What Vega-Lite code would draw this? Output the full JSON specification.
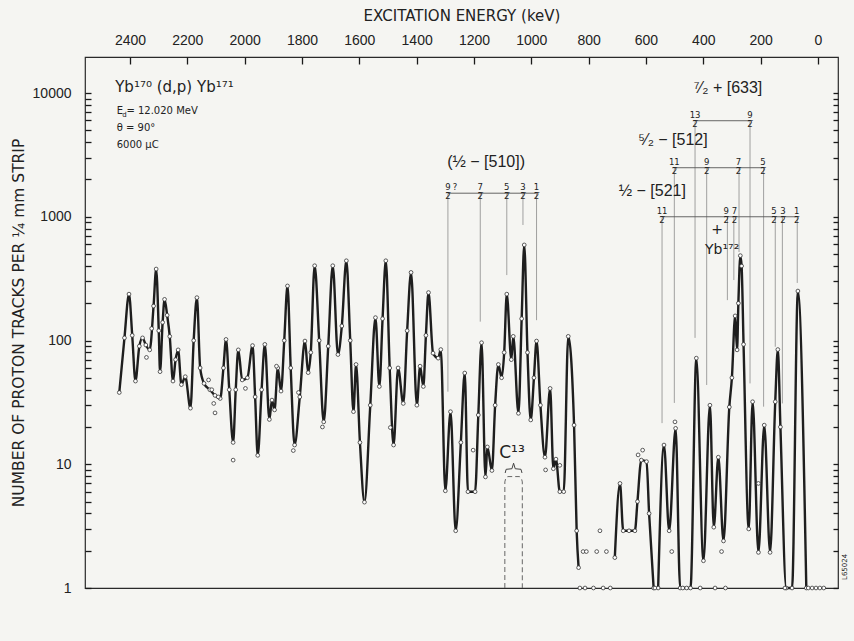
{
"$schema": "https://vega.github.io/schema/vega-lite/v6.json",
"width": 753,
"height": 531,
"autosize": {"type": "none"},
"padding": {"left": 85, "top": 57, "right": 16, "bottom": 53},
"background": "#f5f5f2",
"config": {
  "view": {"stroke": "#2a2a2a", "strokeWidth": 1.2},
  "font": "Liberation Sans",
  "axis": {"domain": false, "grid": false, "tickColor": "#1a1a1a", "tickWidth": 1.3, "labelColor": "#222", "labelFontSize": 14, "titleFontSize": 15, "titleFont": "DejaVu Sans", "titleFontWeight": "normal", "titleColor": "#222"},
  "text": {"color": "#222"}
},
"datasets": {
  "curve": [
    {"x":38.97,"y":38,"s":1},{"x":39.05,"y":105,"s":1},{"x":39.12,"y":237,"s":1},{"x":39.17,"y":110,"s":1},{"x":39.22,"y":47,"s":1},{"x":39.28,"y":90,"s":1},{"x":39.33,"y":105,"s":1},{"x":39.38,"y":92,"s":1},{"x":39.44,"y":84,"s":1},{"x":39.50,"y":190,"s":1},{"x":39.54,"y":378,"s":1},{"x":39.58,"y":120,"s":1},{"x":39.60,"y":56,"s":1},{"x":39.64,"y":140,"s":1},{"x":39.67,"y":215,"s":1},{"x":39.71,"y":160,"s":1},{"x":39.75,"y":108,"s":1},{"x":39.80,"y":47,"s":1},{"x":39.84,"y":70,"s":1},{"x":39.88,"y":84,"s":1},{"x":39.93,"y":44,"s":1},{"x":39.99,"y":51,"s":1},{"x":40.07,"y":28.4,"s":1},{"x":40.12,"y":100,"s":1},{"x":40.17,"y":222,"s":1},{"x":40.22,"y":60,"s":1},{"x":40.28,"y":45,"s":1},{"x":40.37,"y":40,"s":1},{"x":40.45,"y":36,"s":1},{"x":40.53,"y":34,"s":1},{"x":40.58,"y":60,"s":1},{"x":40.62,"y":102,"s":1},{"x":40.67,"y":40,"s":1},{"x":40.73,"y":15,"s":1},{"x":40.77,"y":40,"s":1},{"x":40.81,"y":84,"s":1},{"x":40.87,"y":48,"s":1},{"x":40.95,"y":50,"s":1},{"x":41.03,"y":91,"s":1},{"x":41.07,"y":35,"s":1},{"x":41.11,"y":11.8,"s":1},{"x":41.17,"y":40,"s":1},{"x":41.22,"y":93,"s":1},{"x":41.29,"y":23,"s":1},{"x":41.33,"y":33,"s":1},{"x":41.37,"y":27.5,"s":1},{"x":41.42,"y":60,"s":1},{"x":41.47,"y":39,"s":1},{"x":41.52,"y":100,"s":1},{"x":41.57,"y":276,"s":1},{"x":41.62,"y":60,"s":1},{"x":41.68,"y":14.3,"s":1},{"x":41.76,"y":35,"s":1},{"x":41.84,"y":99,"s":1},{"x":41.89,"y":55,"s":1},{"x":41.93,"y":80,"s":1},{"x":41.99,"y":402,"s":1},{"x":42.06,"y":100,"s":1},{"x":42.13,"y":22,"s":1},{"x":42.20,"y":90,"s":1},{"x":42.27,"y":402,"s":1},{"x":42.35,"y":77,"s":1},{"x":42.41,"y":131,"s":1},{"x":42.48,"y":441,"s":1},{"x":42.54,"y":100,"s":1},{"x":42.59,"y":26.6,"s":1},{"x":42.63,"y":64,"s":1},{"x":42.69,"y":15,"s":1},{"x":42.76,"y":4.94,"s":1},{"x":42.85,"y":30,"s":1},{"x":42.93,"y":153,"s":1},{"x":42.99,"y":42.5,"s":1},{"x":43.04,"y":150,"s":1},{"x":43.09,"y":441,"s":1},{"x":43.15,"y":60,"s":1},{"x":43.21,"y":14.3,"s":1},{"x":43.28,"y":60,"s":1},{"x":43.36,"y":31,"s":1},{"x":43.42,"y":120,"s":1},{"x":43.48,"y":355,"s":1},{"x":43.57,"y":30,"s":1},{"x":43.62,"y":62,"s":1},{"x":43.67,"y":42.5,"s":1},{"x":43.71,"y":110,"s":1},{"x":43.75,"y":244,"s":1},{"x":43.82,"y":79,"s":1},{"x":43.90,"y":72,"s":1},{"x":43.94,"y":84.5,"s":1},{"x":44.01,"y":6.1,"s":1},{"x":44.09,"y":26.6,"s":1},{"x":44.17,"y":2.9,"s":1},{"x":44.25,"y":15,"s":1},{"x":44.31,"y":54.6,"s":1},{"x":44.36,"y":6,"s":1},{"x":44.47,"y":6,"s":1},{"x":44.52,"y":25,"s":1},{"x":44.57,"y":96,"s":1},{"x":44.63,"y":7.9,"s":1},{"x":44.66,"y":13.8,"s":1},{"x":44.73,"y":8.9,"s":1},{"x":44.78,"y":30,"s":1},{"x":44.83,"y":64,"s":1},{"x":44.88,"y":50,"s":1},{"x":44.92,"y":80,"s":1},{"x":44.96,"y":237,"s":1},{"x":45.03,"y":70,"s":1},{"x":45.06,"y":108,"s":1},{"x":45.14,"y":25.8,"s":1},{"x":45.19,"y":150,"s":1},{"x":45.23,"y":592,"s":1},{"x":45.28,"y":80,"s":1},{"x":45.33,"y":22.8,"s":1},{"x":45.38,"y":50,"s":1},{"x":45.42,"y":99,"s":1},{"x":45.48,"y":30,"s":1},{"x":45.55,"y":11.4,"s":1},{"x":45.63,"y":41,"s":1},{"x":45.68,"y":9.2,"s":1},{"x":45.72,"y":11,"s":1},{"x":45.78,"y":6,"s":1},{"x":45.84,"y":6,"s":1},{"x":45.91,"y":108,"s":1},{"x":46.00,"y":20.7,"s":1},{"x":46.04,"y":2.9,"s":1},{"x":46.07,"y":1.46,"s":1},
    {"x":46.63,"y":1.76,"s":2},{"x":46.71,"y":7,"s":2},{"x":46.76,"y":2.9,"s":2},{"x":46.85,"y":2.9,"s":2},{"x":46.94,"y":2.9,"s":2},{"x":46.98,"y":5,"s":2},{"x":47.04,"y":10.8,"s":2},{"x":47.12,"y":10.5,"s":2},{"x":47.16,"y":4,"s":2},{"x":47.23,"y":1,"s":2},
    {"x":47.30,"y":1,"s":3},{"x":47.39,"y":14.3,"s":3},{"x":47.47,"y":2.9,"s":3},{"x":47.57,"y":19.5,"s":3},{"x":47.64,"y":1,"s":3},{"x":47.80,"y":1,"s":3},{"x":47.89,"y":72,"s":3},{"x":48.00,"y":1.66,"s":3},{"x":48.10,"y":30,"s":3},{"x":48.16,"y":3.1,"s":3},{"x":48.23,"y":11.4,"s":3},{"x":48.31,"y":2.4,"s":3},{"x":48.40,"y":29,"s":3},{"x":48.44,"y":50,"s":3},{"x":48.49,"y":158,"s":3},{"x":48.52,"y":84,"s":3},{"x":48.54,"y":200,"s":3},{"x":48.57,"y":485,"s":3},{"x":48.59,"y":400,"s":3},{"x":48.62,"y":93,"s":3},{"x":48.70,"y":3,"s":3},{"x":48.76,"y":32,"s":3},{"x":48.85,"y":1.94,"s":3},{"x":48.94,"y":20.7,"s":3},{"x":49.03,"y":1.94,"s":3},{"x":49.11,"y":32,"s":3},{"x":49.15,"y":84.5,"s":3},{"x":49.19,"y":20,"s":3},{"x":49.28,"y":1,"s":3},{"x":49.37,"y":1,"s":3},{"x":49.46,"y":251,"s":3},{"x":49.59,"y":1,"s":3}
  ],
  "extra": [
    {"x":39.39,"y":73},{"x":39.47,"y":125},{"x":40.35,"y":48},{"x":40.40,"y":40},{"x":40.43,"y":31},{"x":40.45,"y":26},{"x":40.50,"y":35},{"x":40.73,"y":10.8},{"x":40.92,"y":41},{"x":41.40,"y":62},{"x":41.66,"y":12.9},{"x":41.74,"y":38},{"x":42.11,"y":20},{"x":43.16,"y":19.8},{"x":44.44,"y":13},{"x":45.56,"y":9},{"x":45.78,"y":9.8},{"x":46.14,"y":1.97},{"x":46.19,"y":1.97},{"x":46.35,"y":1.97},{"x":46.40,"y":2.9},{"x":46.50,"y":1.97},{"x":46.99,"y":11.9},{"x":47.06,"y":13},{"x":47.56,"y":22},{"x":47.51,"y":1.97},{"x":48.28,"y":1.97},{"x":48.85,"y":7},
    {"x":46.09,"y":1},{"x":46.17,"y":1},{"x":46.30,"y":1},{"x":46.45,"y":1},{"x":46.56,"y":1},{"x":47.25,"y":1},{"x":47.68,"y":1},{"x":47.74,"y":1},{"x":47.95,"y":1},{"x":48.18,"y":1},{"x":48.34,"y":1},{"x":49.26,"y":1},{"x":49.62,"y":1},{"x":49.68,"y":1},{"x":49.74,"y":1},{"x":49.80,"y":1},{"x":49.86,"y":1}
  ],
  "vl": [
    {"x":44.05,"y":1550,"y2":38.6},{"x":44.55,"y":1550,"y2":142},{"x":44.96,"y":1550,"y2":338},{"x":45.21,"y":1550,"y2":858},{"x":45.42,"y":1550,"y2":146},
    {"x":47.87,"y":5970,"y2":105},{"x":48.72,"y":5970,"y2":45},
    {"x":47.55,"y":2490,"y2":31.3},{"x":48.05,"y":2490,"y2":43.7},{"x":48.55,"y":2490,"y2":519},{"x":48.93,"y":2490,"y2":29.2},
    {"x":47.36,"y":1000,"y2":21.5},{"x":48.37,"y":1000,"y2":212},{"x":48.47,"y":1000,"y2":308},{"x":49.11,"y":1000,"y2":89},{"x":49.22,"y":1000,"y2":31},{"x":49.45,"y":1000,"y2":292}
  ],
  "hl": [
    {"x":44.05,"x2":45.42,"y":1550},{"x":47.87,"x2":48.72,"y":5970},{"x":47.55,"x2":48.93,"y":2490},{"x":47.36,"x2":49.45,"y":1000}
  ],
  "fracs": [
    {"x":44.05,"y":1550,"t":["9","2̅"]},{"x":44.16,"y":1550,"t":"?"},{"x":44.55,"y":1550,"t":["7","2̅"]},{"x":44.96,"y":1550,"t":["5","2̅"]},{"x":45.21,"y":1550,"t":["3","2̅"]},{"x":45.42,"y":1550,"t":["1","2̅"]},
    {"x":47.87,"y":5970,"t":["13","2̅"]},{"x":48.72,"y":5970,"t":["9","2̅"]},
    {"x":47.55,"y":2490,"t":["11","2̅"]},{"x":48.05,"y":2490,"t":["9","2̅"]},{"x":48.54,"y":2490,"t":["7","2̅"]},{"x":48.92,"y":2490,"t":["5","2̅"]},
    {"x":47.36,"y":1000,"t":["11","2̅"]},{"x":48.35,"y":1000,"t":["9","2̅"]},{"x":48.48,"y":1000,"t":["7","2̅"]},{"x":49.09,"y":1000,"t":["5","2̅"]},{"x":49.23,"y":1000,"t":["3","2̅"]},{"x":49.44,"y":1000,"t":["1","2̅"]}
  ],
  "groups": [
    {"x":44.64,"y":2786,"t":"(½ − [510])"},{"x":48.38,"y":10920,"t":"⁷⁄₂ + [633]"},{"x":47.53,"y":4170,"t":"⁵⁄₂ − [512]"},{"x":47.21,"y":1623,"t":"½ − [521]"}
  ],
  "mid": [
    {"x":48.21,"y":782,"t":"+"},{"x":48.29,"y":539,"t":"Yb¹⁷²"}
  ],
  "c13t": [{"x":45.04,"y":12.3,"t":"C¹³"}],
  "hdrBig": [{"x":38.907,"y":11250,"t":"Yb¹⁷⁰ (d,p) Yb¹⁷¹"}],
  "hdrSmall": [
    {"x":38.93,"y":7195,"t":"E"},{"x":39.08,"y":7195,"t":"= 12.020 MeV"},{"x":38.93,"y":5212,"t":"θ  = 90°"},{"x":38.93,"y":3800,"t":"6000 μC"}
  ],
  "sub": [{"x":39.015,"y":6650,"t":"d"}],
  "code": [{"x":50.19,"y":1.48,"t":"L65024"}],
  "c13": [
    {"i":1,"x":44.93,"y":1},{"i":2,"x":44.93,"y":7.2},{"i":3,"x":44.945,"y":7.75},{"i":4,"x":44.975,"y":7.95},{"i":5,"x":45.155,"y":7.95},{"i":6,"x":45.185,"y":7.75},{"i":7,"x":45.20,"y":7.2},{"i":8,"x":45.20,"y":1}
  ],
  "brace": [
    {"i":1,"x":44.935,"y":8.5},{"i":2,"x":44.95,"y":9.1},{"i":3,"x":45.04,"y":9.2},{"i":4,"x":45.065,"y":10.2},{"i":5,"x":45.09,"y":9.2},{"i":6,"x":45.18,"y":9.1},{"i":7,"x":45.195,"y":8.5}
  ],
  "energy": [{"E":0},{"E":2400}]
},
"layer": [
  {
    "encoding": {
      "x": {"field": "x", "type": "quantitative", "scale": {"domain": [38.44, 50.08], "nice": false, "zero": false}, "axis": null},
      "y": {"field": "y", "type": "quantitative", "scale": {"type": "log", "domain": [1, 19540], "nice": false}, "axis": null}
    },
    "layer": [
      {"data": {"name": "vl"}, "mark": {"type": "rule", "stroke": "#8a8a8a", "strokeWidth": 0.8}, "encoding": {"y2": {"field": "y2"}}},
      {"data": {"name": "hl"}, "mark": {"type": "rule", "stroke": "#555", "strokeWidth": 0.9}, "encoding": {"x2": {"field": "x2"}}},
      {"data": {"name": "c13"}, "mark": {"type": "line", "stroke": "#666", "strokeWidth": 1, "strokeDash": [5, 3]}, "encoding": {"order": {"field": "i", "type": "quantitative"}}},
      {"data": {"name": "brace"}, "mark": {"type": "line", "stroke": "#444", "strokeWidth": 1}, "encoding": {"order": {"field": "i", "type": "quantitative"}}},
      {
        "data": {"name": "curve"},
        "mark": {"type": "line", "interpolate": "monotone", "stroke": "#1e1e1e", "strokeWidth": 2.4},
        "encoding": {
          "x": {"field": "x", "type": "quantitative", "scale": {"domain": [38.44, 50.08], "nice": false, "zero": false},
            "axis": {"orient": "bottom", "offset": -7, "values": [39,39.5,40,40.5,41,41.5,42,42.5,43,43.5,44,44.5,45,45.5,46,46.5,47,47.5,48,48.5,49,49.5,50],
              "labelExpr": "datum.value % 1 == 0 ? datum.label : ''", "tickSize": 7, "labelPadding": 11,
              "title": "DISTANCE  ALONG  PLATE  (cm)", "titleFontSize": 15, "titlePadding": 6}},
          "y": {"field": "y", "type": "quantitative", "scale": {"type": "log", "domain": [1, 19540], "nice": false},
            "axis": {"orient": "left", "offset": -6, "values": [1,2,3,4,5,6,7,8,9,10,20,30,40,50,60,70,80,90,100,200,300,400,500,600,700,800,900,1000,2000,3000,4000,5000,6000,7000,8000,9000,10000],
              "labelExpr": "(datum.value==1||datum.value==10||datum.value==100||datum.value==1000||datum.value==10000) ? format(datum.value,'d') : ''",
              "tickSize": 6, "labelPadding": 14, "title": "NUMBER OF PROTON TRACKS PER ¼ mm STRIP", "titleFontSize": 15.5, "titlePadding": 6}},
          "detail": {"field": "s"}
        }
      },
      {"data": {"name": "curve"}, "mark": {"type": "point", "shape": "circle", "filled": true, "fill": "#ffffff", "stroke": "#333", "strokeWidth": 0.8, "size": 14, "opacity": 1}},
      {
        "data": {"name": "extra"},
        "mark": {"type": "point", "shape": "circle", "filled": true, "fill": "#ffffff", "stroke": "#333", "strokeWidth": 0.8, "size": 14, "opacity": 1},
        "encoding": {
          "y": {"field": "y", "type": "quantitative", "scale": {"type": "log", "domain": [1, 19540], "nice": false},
            "axis": {"orient": "right", "offset": -5, "values": [1,2,3,4,5,6,7,8,9,10,20,30,40,50,60,70,80,90,100,200,300,400,500,600,700,800,900,1000,2000,3000,4000,5000,6000,7000,8000,9000,10000],
              "labels": false, "title": null, "tickSize": 5}}
        }
      },
      {"data": {"name": "fracs"}, "mark": {"type": "text", "font": "DejaVu Sans", "fontSize": 8.5, "lineHeight": 9, "align": "center", "baseline": "bottom", "dy": -1}, "encoding": {"text": {"field": "t"}}},
      {"data": {"name": "groups"}, "mark": {"type": "text", "font": "Liberation Sans", "fontSize": 16, "align": "center", "baseline": "middle"}, "encoding": {"text": {"field": "t"}}},
      {"data": {"name": "mid"}, "mark": {"type": "text", "font": "DejaVu Sans", "fontSize": 14, "align": "center", "baseline": "middle"}, "encoding": {"text": {"field": "t"}}},
      {"data": {"name": "c13t"}, "mark": {"type": "text", "font": "DejaVu Sans", "fontSize": 17, "align": "center", "baseline": "middle"}, "encoding": {"text": {"field": "t"}}},
      {"data": {"name": "hdrBig"}, "mark": {"type": "text", "font": "DejaVu Sans", "fontSize": 15, "align": "left", "baseline": "middle"}, "encoding": {"text": {"field": "t"}}},
      {"data": {"name": "hdrSmall"}, "mark": {"type": "text", "font": "DejaVu Sans", "fontSize": 10, "align": "left", "baseline": "middle"}, "encoding": {"text": {"field": "t"}}},
      {"data": {"name": "sub"}, "mark": {"type": "text", "font": "DejaVu Sans", "fontSize": 7, "align": "left", "baseline": "middle"}, "encoding": {"text": {"field": "t"}}},
      {"data": {"name": "code"}, "mark": {"type": "text", "font": "DejaVu Sans", "fontSize": 7, "align": "center", "baseline": "middle", "angle": 270}, "encoding": {"text": {"field": "t"}}}
    ],
    "resolve": {"axis": {"y": "independent"}}
  },
  {
    "data": {"name": "energy"},
    "mark": {"type": "point", "opacity": 0},
    "encoding": {
      "x": {"field": "E", "type": "quantitative", "scale": {"domain": [2557, -70], "nice": false, "zero": false},
        "axis": {"orient": "top", "offset": -7, "values": [0,200,400,600,800,1000,1200,1400,1600,1800,2000,2200,2400], "format": "d",
          "tickSize": 7, "labelPadding": 10, "title": "EXCITATION  ENERGY  (keV)", "titleFontSize": 15, "titlePadding": 10}}
    }
  }
],
"resolve": {"scale": {"x": "independent"}, "axis": {"x": "independent", "y": "independent"}}
}
